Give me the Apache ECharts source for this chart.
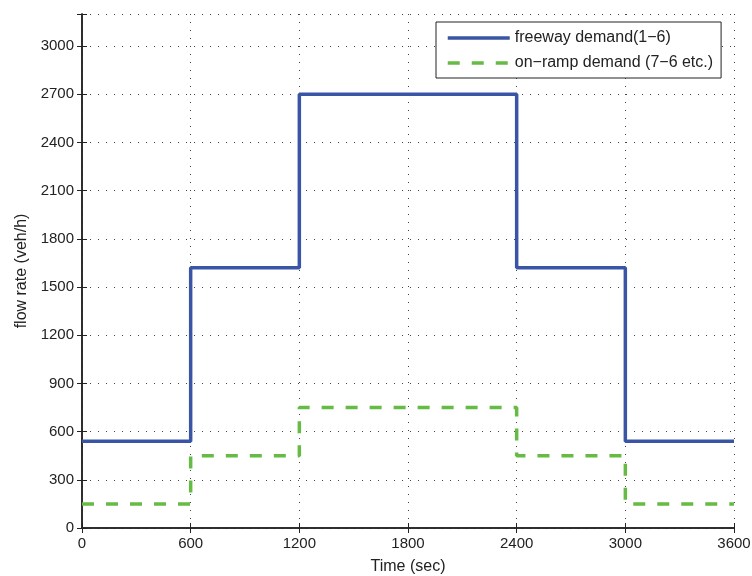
<!DOCTYPE html>
<html>
<head>
<meta charset="utf-8">
<script src="https://cdn.jsdelivr.net/npm/echarts@6/dist/echarts.min.js"></script>
<style>
	html, body { margin: 0; padding: 0; background: #fff; }
	#chart { width: 752px; height: 576px; }
</style>
</head>
<body>
<div id="chart"></div>
<script>
// step change times (sec) and demand levels (veh/h) between them
let breakpoints = [0, 600, 1200, 2400, 3000, 3600];
let freeway = [540, 1620, 2700, 1620, 540];
let onramp = [150, 450, 750, 450, 150];

let toSteps = (levels) => {
	let pts = [];
	levels.forEach((v, i) => {
		pts.push([breakpoints[i], v]);
		pts.push([breakpoints[i + 1], v]);
	});
	return pts;
};

let font = 'Liberation Sans, Arial, sans-serif';
let gridLine = {
	show: true,
	lineStyle: {color: '#444', type: [1, 7], width: 1},
};
let boxAxis = {
	axisLine: {show: true, lineStyle: {color: '#222', width: 1.5}},
	axisTick: {show: true, inside: true, length: 5, lineStyle: {color: '#222'}},
	axisLabel: {show: false},
	splitLine: {show: false},
};

let chart = echarts.init(document.getElementById('chart'));
chart.setOption({
	animation: false,
	backgroundColor: '#fff',
	grid: {left: 82, right: 18, top: 14, bottom: 48, outerBoundsMode: 'none', containLabel: false},
	legend: {
		orient: 'vertical',
		left: 436,
		top: 22,
		padding: [8, 8, 7, 10],
		itemGap: 9,
		itemWidth: 62,
		itemHeight: 15,
		borderColor: '#222',
		borderWidth: 1,
		backgroundColor: '#fff',
		itemStyle: {opacity: 0},
		lineStyle: {width: 3.5},
		textStyle: {fontFamily: font, fontSize: 16, color: '#222'},
		data: ['freeway demand(1\u22126)', 'on\u2212ramp demand (7\u22126 etc.)'],
	},
	xAxis: [
		{
			type: 'value',
			min: 0,
			max: 3600,
			interval: 600,
			name: 'Time (sec)',
			nameLocation: 'middle',
			nameGap: 31,
			nameTextStyle: {fontFamily: font, fontSize: 16, color: '#222'},
			axisLine: {show: true, lineStyle: {color: '#222', width: 1.5}},
			axisTick: {show: true, inside: true, length: 5, lineStyle: {color: '#222'}},
			axisLabel: {fontFamily: font, fontSize: 15, color: '#222', margin: 8, formatter: (v) => String(v)},
			splitLine: gridLine,
		},
		Object.assign({type: 'value', position: 'top', min: 0, max: 3600, interval: 600}, boxAxis),
	],
	yAxis: [
		{
			type: 'value',
			min: 0,
			max: 3200,
			interval: 300,
			name: 'flow rate (veh/h)',
			nameLocation: 'middle',
			nameGap: 52,
			nameTextStyle: {fontFamily: font, fontSize: 16, color: '#222'},
			axisLine: {show: true, lineStyle: {color: '#222', width: 1.5}},
			axisTick: {show: true, inside: true, length: 5, lineStyle: {color: '#222'}},
			axisLabel: {
				fontFamily: font, fontSize: 15, color: '#222', margin: 8,
				formatter: (v) => (v % 300 === 0 ? String(v) : ''),
			},
			splitLine: gridLine,
		},
		Object.assign({type: 'value', position: 'right', min: 0, max: 3200, interval: 300}, boxAxis),
	],
	series: [
		{
			name: 'freeway demand(1\u22126)',
			type: 'line',
			data: toSteps(freeway),
			showSymbol: false,
			symbol: 'none',
			lineStyle: {color: '#3a55a5', width: 3.5},
			itemStyle: {color: '#3a55a5'},
			z: 3,
		},
		{
			name: 'on\u2212ramp demand (7\u22126 etc.)',
			type: 'line',
			data: toSteps(onramp),
			showSymbol: false,
			symbol: 'none',
			lineStyle: {color: '#66bb44', width: 3.5, type: [12, 12]},
			itemStyle: {color: '#66bb44'},
			z: 2,
		},
	],
});
</script>
</body>
</html>
